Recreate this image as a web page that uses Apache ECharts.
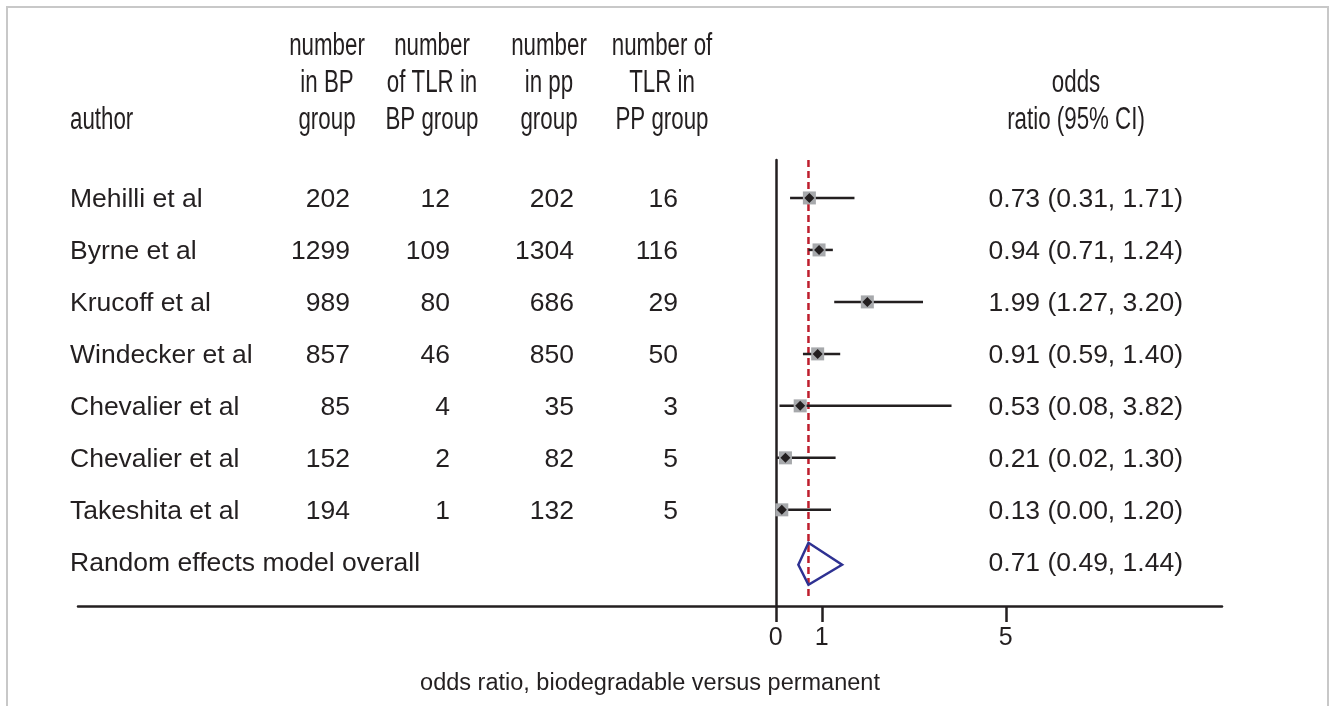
<!DOCTYPE html>
<html>
<head>
<meta charset="utf-8">
<script src="https://cdn.jsdelivr.net/npm/echarts@6/dist/echarts.min.js"></script>
<style>
html,body{margin:0;padding:0;background:#fff;}
#c{width:1332px;height:706px;}
</style>
</head>
<body>
<div id="c"></div>
<script>
// ---- data ----
var authors = ['Mehilli et al', 'Byrne et al', 'Krucoff et al', 'Windecker et al', 'Chevalier et al', 'Chevalier et al', 'Takeshita et al'];
var nBP   = [202, 1299, 989, 857, 85, 152, 194];
var tlrBP = [12, 109, 80, 46, 4, 2, 1];
var nPP   = [202, 1304, 686, 850, 35, 82, 132];
var tlrPP = [16, 116, 29, 50, 3, 5, 5];
var orVal = [0.73, 0.94, 1.99, 0.91, 0.53, 0.21, 0.13];
var orLo  = [0.31, 0.71, 1.27, 0.59, 0.08, 0.02, 0.00];
var orHi  = [1.71, 1.24, 3.20, 1.40, 3.82, 1.30, 1.20];
var overallLabel = 'Random effects model overall';
var overallOR = 0.71, overallLo = 0.49, overallHi = 1.44;
var xTicks = [0, 1, 5];
var xName = 'odds ratio, biodegradable versus permanent';
var headers = {
  author: ['author'],
  nBP: ['number', 'in BP', 'group'],
  tlrBP: ['number', 'of TLR in', 'BP group'],
  nPP: ['number', 'in pp', 'group'],
  tlrPP: ['number of', 'TLR in', 'PP group'],
  or: ['odds', 'ratio (95% CI)']
};

// ---- layout ----
var INK = '#231f20';
var BODY_FONT = "'Liberation Sans', Arial, sans-serif";
var HEAD_FONT = "'Liberation Sans', Arial, sans-serif";
var yMin = -0.73, yMax = 7.85;
function fmt(v){ return v.toFixed(2); }

var chart = echarts.init(document.getElementById('c'), null, {renderer: 'canvas'});

// text table rows: [colX, row, text, align]
var textRows = [];
var cols = [
  {x: 70, align: 'left', arr: authors},
  {x: 350, align: 'right', arr: nBP},
  {x: 450, align: 'right', arr: tlrBP},
  {x: 574, align: 'right', arr: nPP},
  {x: 678, align: 'right', arr: tlrPP}
];
cols.forEach(function(c){
  c.arr.forEach(function(v, i){ textRows.push([c.x, i, String(v), c.align]); });
});
orVal.forEach(function(v, i){
  textRows.push([1183, i, fmt(v) + ' (' + fmt(orLo[i]) + ', ' + fmt(orHi[i]) + ')', 'right']);
});
textRows.push([70, authors.length, overallLabel, 'left']);
textRows.push([1183, authors.length, fmt(overallOR) + ' (' + fmt(overallLo) + ', ' + fmt(overallHi) + ')', 'right']);

// header graphic
var headerLineY = [46, 83, 120];
var headerCols = [
  {x: 70, align: 'left', lines: headers.author},
  {x: 327, align: 'center', lines: headers.nBP},
  {x: 432, align: 'center', lines: headers.tlrBP},
  {x: 549, align: 'center', lines: headers.nPP},
  {x: 662, align: 'center', lines: headers.tlrPP},
  {x: 1076, align: 'center', lines: headers.or}
];
var graphics = [{
  type: 'rect', shape: {x: 7, y: 7, width: 1321, height: 800},
  style: {fill: 'none', stroke: '#c8c8c8', lineWidth: 2}, silent: true
}];
headerCols.forEach(function(h){
  var n = h.lines.length;
  h.lines.forEach(function(t, k){
    graphics.push({
      type: 'text', x: h.x, y: headerLineY[3 - n + k], scaleX: 0.72,
      style: {text: t, textAlign: h.align, textVerticalAlign: 'middle',
              font: '31px ' + HEAD_FONT, fill: INK}
    });
  });
});

var option = {
  animation: false,
  backgroundColor: '#fff',
  graphic: graphics,
  grid: [
    {left: 78, right: 110, top: 160, bottom: 100, containLabel: false},
    {left: 0, right: 0, top: 160, bottom: 100, containLabel: false}
  ],
  xAxis: [{
    type: 'value', gridIndex: 0, min: -15.17, max: 9.7, position: 'bottom',
    splitLine: {show: false},
    axisLine: {show: true, onZero: false, lineStyle: {color: INK, width: 2.5}},
    axisTick: {show: true, customValues: xTicks, length: 16, inside: false, lineStyle: {color: INK, width: 2.5}},
    axisLabel: {show: true, customValues: xTicks, margin: 20, fontSize: 25, color: INK, fontFamily: BODY_FONT},
    name: xName, nameLocation: 'middle', nameGap: 66,
    nameTextStyle: {fontSize: 23.5, color: INK, fontFamily: BODY_FONT}
  }, {
    type: 'value', gridIndex: 1, min: 0, max: 1332, show: false
  }],
  yAxis: [{
    type: 'value', gridIndex: 0, min: yMin, max: yMax, inverse: true,
    splitLine: {show: false},
    axisLine: {show: true, onZero: true, lineStyle: {color: INK, width: 2.5}},
    axisTick: {show: false}, axisLabel: {show: false}
  }, {
    type: 'value', gridIndex: 1, min: yMin, max: yMax, inverse: true, show: false
  }],
  series: [
    // reference dashed line at overall estimate
    {
      type: 'custom', xAxisIndex: 0, yAxisIndex: 0, z: 2,
      data: [[overallOR]],
      renderItem: function(params, api){
        var cs = params.coordSys;
        var x = api.coord([api.value(0), 0])[0];
        return {type: 'line', shape: {x1: x, y1: cs.y, x2: x, y2: cs.y + cs.height - 10},
                style: {stroke: '#be1e2d', lineWidth: 2.5, lineDash: [7, 4]}};
      }
    },
    // CI whiskers
    {
      type: 'custom', xAxisIndex: 0, yAxisIndex: 0, z: 3,
      data: orVal.map(function(v, i){ return [orLo[i], orHi[i], i]; }),
      encode: {x: [0, 1], y: 2},
      renderItem: function(params, api){
        var a = api.coord([api.value(0), api.value(2)]);
        var b = api.coord([api.value(1), api.value(2)]);
        return {type: 'line', shape: {x1: a[0], y1: a[1], x2: b[0], y2: b[1]},
                style: {stroke: INK, lineWidth: 2.5}};
      }
    },
    // gray weight squares
    {
      type: 'scatter', xAxisIndex: 0, yAxisIndex: 0, z: 4,
      symbol: 'rect', symbolSize: 13,
      itemStyle: {color: '#a7a9ac', opacity: 1},
      data: orVal.map(function(v, i){ return [v, i]; })
    },
    // black diamonds
    {
      type: 'scatter', xAxisIndex: 0, yAxisIndex: 0, z: 5,
      symbol: 'diamond', symbolSize: 10,
      itemStyle: {color: INK, opacity: 1},
      data: orVal.map(function(v, i){ return [v, i]; })
    },
    // overall diamond
    {
      type: 'custom', xAxisIndex: 0, yAxisIndex: 0, z: 5,
      data: [[overallLo, overallOR, overallHi, authors.length]],
      encode: {x: [0, 1, 2], y: 3},
      renderItem: function(params, api){
        var r = api.value(3);
        var l = api.coord([api.value(0), r]);
        var m = api.coord([api.value(1), r]);
        var h = api.coord([api.value(2), r]);
        return {type: 'polygon',
                shape: {points: [[l[0], l[1] + 3], [m[0], m[1] - 19], [h[0], h[1] + 3], [m[0], m[1] + 23]]},
                style: {fill: 'none', stroke: '#2e3192', lineWidth: 2.5, lineJoin: 'miter'}};
      }
    },
    // table text
    {
      type: 'custom', xAxisIndex: 1, yAxisIndex: 1, z: 6,
      data: textRows,
      encode: {x: 0, y: 1},
      renderItem: function(params, api){
        var d = textRows[params.dataIndex];
        var p = api.coord([d[0], d[1]]);
        return {type: 'text', x: p[0], y: p[1] + 2,
                style: {text: d[2], textAlign: d[3], textVerticalAlign: 'middle',
                        font: '26.5px ' + BODY_FONT, fill: INK}};
      }
    }
  ]
};
chart.setOption(option);
</script>
</body>
</html>
